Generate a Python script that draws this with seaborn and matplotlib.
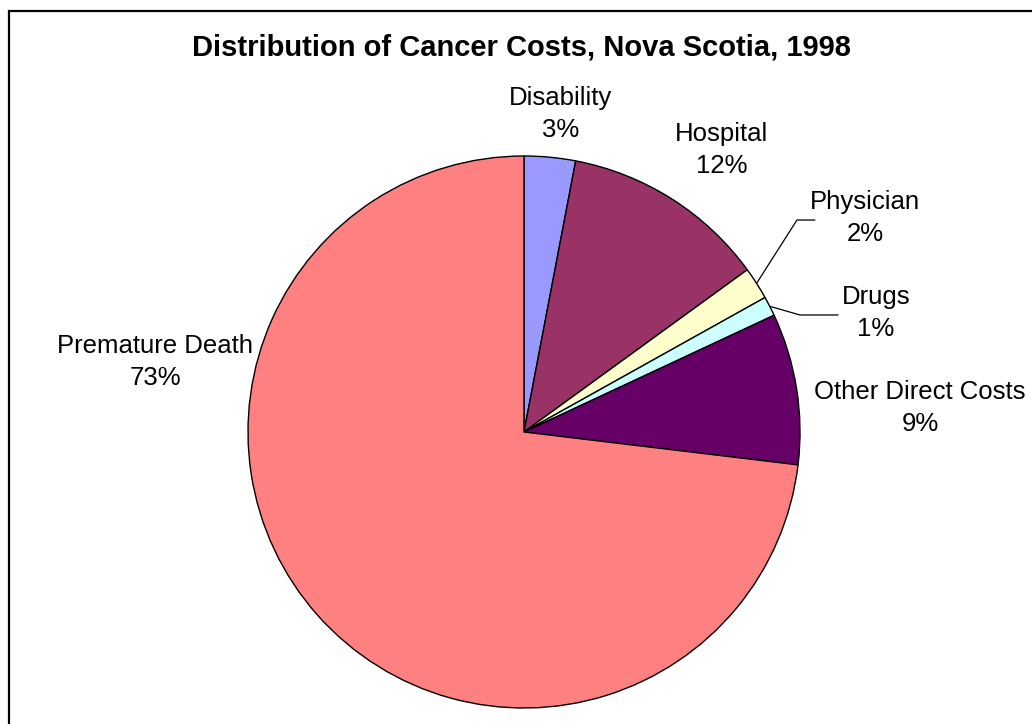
import numpy as np
import matplotlib
matplotlib.use("Agg")
import matplotlib.pyplot as plt
import matplotlib.patches as mpatches
import seaborn as sns

# data
categories = ["Disability", "Hospital", "Physician", "Drugs", "Other Direct Costs", "Premature Death"]
shares = [3.0, 12.0, 1.9, 1.15, 8.85, 73.1]
pct_labels = ["3%", "12%", "2%", "1%", "9%", "73%"]
colors = ["#9999FF", "#993366", "#FFFFCC", "#CCFFFF", "#660066", "#FF8080"]

sns.set_theme(style="white")
plt.rcParams["font.family"] = ["Liberation Sans", "DejaVu Sans"]
plt.rcParams["text.color"] = "black"

W, H = 1032, 724
cx, cy, r = 524, 432, 276
fig = plt.figure(figsize=(W / 100, H / 100), dpi=100)
ax = fig.add_axes([(cx - r) / W, (H - cy - r) / H, 2 * r / W, 2 * r / H])

wedges, _ = ax.pie(shares, colors=colors, startangle=90, counterclock=False,
                   wedgeprops=dict(edgecolor="black", linewidth=1.0))
ax.set_xlim(-1, 1)
ax.set_ylim(-1, 1)
ax.set_aspect("equal")
ax.axis("off")

# label placement (data units, pie radius = 1)
label_pos = [(0.134, 1.153), (0.717, 1.022), (1.236, 0.775),
             (1.275, 0.431), (1.435, 0.087), (-1.337, 0.253)]
for name, pct, (lx, ly) in zip(categories, pct_labels, label_pos):
    ax.text(lx, ly, f"{name}\n{pct}", ha="center", va="center", fontsize=18.5,
            linespacing=1.43, color="black")

# leader lines for the two thin slices
for i, bend, end in [(2, (0.989, 0.768), 1.054), (3, (1.0, 0.424), 1.138)]:
    w = wedges[i]
    mid = np.deg2rad((w.theta1 + w.theta2) / 2)
    sx, sy = np.cos(mid), np.sin(mid)
    ax.plot([sx, bend[0], end], [sy, bend[1], bend[1]], color="black", lw=0.9,
            clip_on=False)

fig.text(521 / W, 1 - 47 / H, "Distribution of Cancer Costs, Nova Scotia, 1998",
         ha="center", va="center", fontsize=21, fontweight="bold", color="black")

# chart frame
fig.patches.append(mpatches.Rectangle((9 / W, -0.1), 1.2, 1 - 11 / H + 0.1,
                                      transform=fig.transFigure, fill=False,
                                      edgecolor="black", linewidth=1.6))

fig.savefig("out.png", dpi=100)
